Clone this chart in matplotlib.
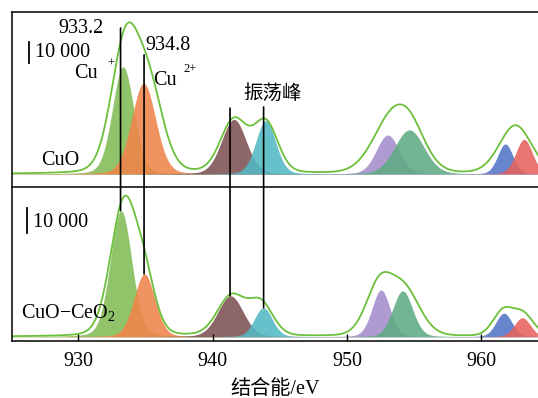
import numpy as np
import matplotlib
matplotlib.use("Agg")
import matplotlib.pyplot as plt
from matplotlib.patches import ConnectionPatch

plt.rcParams['font.family'] = ['Liberation Serif', 'Noto Sans CJK SC']
plt.rcParams['mathtext.fontset'] = 'custom'
plt.rcParams['mathtext.rm'] = 'Liberation Serif'
plt.rcParams['mathtext.it'] = 'Liberation Serif:italic'

# ---------------- data ----------------
component_colors = ["#82bc55", "#f0844a", "#7d5252", "#52b9c3",
                    "#a48ccb", "#5fab84", "#5274c6", "#e6625c"]

cuo_centers = [933.34, 934.87, 941.59, 943.96, 953.04, 954.65, 961.79, 963.19]
cuo_heights = [51000, 43200, 26000, 25400, 18600, 21000, 14300, 16500]
cuo_sigmas = [0.80, 0.90, 0.92, 0.74, 0.85, 1.10, 0.57, 0.62]
cuo_env_centers = [933.5, 935.3, 941.59, 943.96, 953.1, 954.7, 962.55]
cuo_env_heights = [61000, 37100, 25200, 23800, 21400, 19000, 23000]
cuo_env_sigmas = [1.05, 1.05, 1.0, 0.9, 1.35, 1.2, 1.2]

ceo_centers = [933.19, 934.93, 941.34, 943.78, 952.54, 954.15, 961.69, 963.06]
ceo_heights = [50400, 25100, 16300, 11600, 18700, 18300, 9400, 7600]
ceo_sigmas = [0.80, 0.78, 0.95, 0.67, 0.67, 0.74, 0.60, 0.60]
ceo_env_centers = [933.4, 935.0, 941.4, 943.6, 952.4, 954.3, 961.6, 963.1]
ceo_env_heights = [53200, 18000, 16000, 12800, 19600, 18000, 9600, 8800]
ceo_env_sigmas = [1.0, 0.8, 1.05, 0.9, 1.0, 1.15, 0.75, 0.8]

lorentz_fraction = 0.15

marker_energies = [933.15, 934.9, 941.3, 943.8]
marker_top_counts = [69500, 56700, 31400, 31900]
marker_labels = ["933.2", "934.8"]

xticks = [930, 940, 950, 960]
scale_bar = 10000
# --------------------------------------

W, H = 538, 398
fig = plt.figure(figsize=(W / 100, H / 100), dpi=100)


def fx(px):
    return px / W


def fy(py):
    return 1 - py / H


xmin, xmax = 925.07, 964.30
ax1 = fig.add_axes([fx(12), fy(187), fx(539) - fx(12), fy(12) - fy(187)])
ax2 = fig.add_axes([fx(12), fy(341), fx(539) - fx(12), fy(187) - fy(341)])
ax2.patch.set_visible(False)

x = np.linspace(xmin, xmax, 3000)


def peak(c, h, s):
    w = s * np.sqrt(2 * np.log(2))          # half width at half maximum
    g = np.exp(-np.log(2) * (x - c) ** 2 / w ** 2)
    lz = 1.0 / (1.0 + (x - c) ** 2 / w ** 2)
    return h * ((1 - lorentz_fraction) * g + lorentz_fraction * lz)


def draw_panel(ax, centers, heights, sigmas, ec, eh, es):
    for c, h, s, col in zip(centers, heights, sigmas, component_colors):
        ax.fill_between(x, 0, peak(c, h, s), color=col, alpha=0.88, lw=0)
    env = np.zeros_like(x)
    for c, h, s in zip(ec, eh, es):
        env += peak(c, h, s)
    ax.plot(x, env, color="#6cc03c", lw=1.3)


draw_panel(ax1, cuo_centers, cuo_heights, cuo_sigmas,
           cuo_env_centers, cuo_env_heights, cuo_env_sigmas)
draw_panel(ax2, ceo_centers, ceo_heights, ceo_sigmas,
           ceo_env_centers, ceo_env_heights, ceo_env_sigmas)

ax1.set_xlim(xmin, xmax)
ax2.set_xlim(xmin, xmax)
ax1.set_ylim(-6190, 77140)
ax2.set_ylim(-1720, 59880)

for ax in (ax1, ax2):
    ax.set_yticks([])
    for sp in ax.spines.values():
        sp.set_linewidth(1.1)
ax1.set_xticks([])
ax2.spines['top'].set_visible(False)
ax2.set_xticks(xticks)
ax2.set_xticklabels([str(t) for t in xticks], fontsize=14.5)
ax2.tick_params(axis='x', direction='in', length=5, width=1.0, pad=8)
ax2.set_xlabel("结合能/eV", fontsize=14.5, va='top')
ax2.xaxis.set_label_coords(0.499, -0.25)

# scale bars
ax1.plot([926.35, 926.35], [52900, 52900 + scale_bar], color='black', lw=1.3)
ax2.plot([926.2, 926.2], [41500, 41500 + scale_bar], color='black', lw=1.3)

# marker lines spanning both panels
for e, yt, yb in zip(marker_energies, marker_top_counts, ceo_heights[:4]):
    con = ConnectionPatch(xyA=(e, yt), coordsA=ax1.transData,
                          xyB=(e, yb), coordsB=ax2.transData,
                          color='black', lw=1.2)
    fig.add_artist(con)

fs = 14.5
fig.text(fx(80.7), fy(33), marker_labels[0], fontsize=fs, ha='center', va='baseline')
fig.text(fx(167.5), fy(50), marker_labels[1], fontsize=fs, ha='center', va='baseline')
fig.text(fx(35), fy(57), "10 000", fontsize=fs, ha='left', va='baseline')
fig.text(fx(74), fy(78), "Cu", fontsize=fs, ha='left', va='baseline')
fig.text(fx(110.8), fy(63.5), "+", fontsize=9, ha='center', va='center')
fig.text(fx(153), fy(85), "Cu", fontsize=fs, ha='left', va='baseline')
fig.text(fx(190.5), fy(69), "2+", fontsize=9, ha='center', va='center')
fig.text(fx(273), fy(93), "振荡峰", fontsize=14, ha='center', va='center',
         family=['Noto Sans CJK SC'])
fig.text(fx(41), fy(165), "CuO", fontsize=fs, ha='left', va='baseline')
fig.text(fx(33), fy(226.7), "10 000", fontsize=fs, ha='left', va='baseline')
fig.text(fx(21), fy(317.7), "CuO−CeO$_2$", fontsize=fs, ha='left', va='baseline')

fig.savefig("out.png", dpi=100)
